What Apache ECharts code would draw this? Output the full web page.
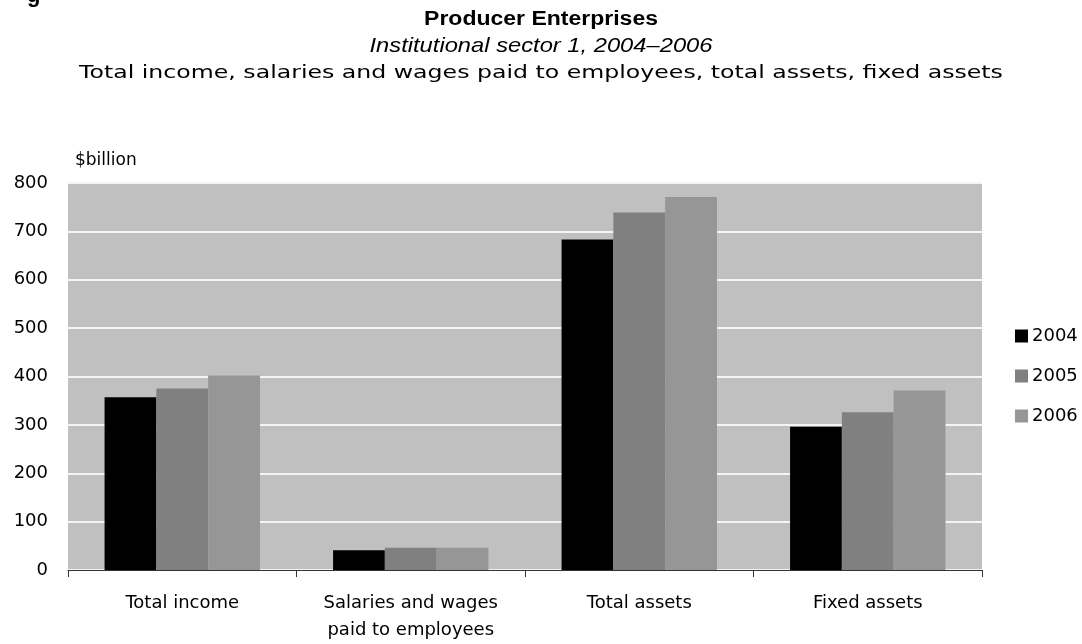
<!DOCTYPE html>
<html>
<head>
<meta charset="utf-8">
<style>
  html, body { margin: 0; padding: 0; background: #ffffff; }
  #chart { width: 1082px; height: 644px; }
</style>
<script src="https://cdn.jsdelivr.net/npm/echarts@6/dist/echarts.min.js"></script>
</head>
<body>
<div id="chart"></div>
<script>
// Producer enterprises, institutional sector 1, $billion
const categories = ['Total income', 'Salaries and wages\npaid to employees', 'Total assets', 'Fixed assets'];
const years = ['2004', '2005', '2006'];
const values2004 = [357, 41, 683, 296];
const values2005 = [375, 46, 739, 326];
const values2006 = [402, 46, 771, 371];
const yTicks = [0, 100, 200, 300, 400, 500, 600, 700, 800];
const seriesColors = ['#000000', '#808080', '#969696'];

const SANS = '"Liberation Sans", Arial, sans-serif';
const WIDE = '"DejaVu Sans", Verdana, sans-serif';
const chart = echarts.init(document.getElementById('chart'), null, { renderer: 'canvas' });

const seriesValues = [values2004, values2005, values2006];

// centred heading line, stretched horizontally to the wide spacing of the headings
function heading(text, font, y, stretch) {
  return {
    type: 'text', x: 541, y: y, scaleX: stretch, scaleY: 1,
    style: { text: text, font: font, fill: '#000', align: 'center', verticalAlign: 'middle' }
  };
}

chart.setOption({
  animation: false,
  backgroundColor: '#ffffff',
  textStyle: { fontFamily: WIDE },
  graphic: [
    { type: 'text', x: 27, y: -15, style: { text: 'g', font: 'bold 22px ' + SANS, fill: '#000' } },
    heading('Producer Enterprises', 'bold 20px ' + SANS, 19, 1.15),
    heading('Institutional sector 1, 2004\u20132006', 'italic 21px ' + SANS, 46, 1.13),
    heading('Total income, salaries and wages paid to employees, total assets, fixed assets', '17px ' + WIDE, 74, 1.39),
    { type: 'text', x: 75, y: 161, style: { text: '$billion', font: '17px ' + WIDE, fill: '#000', verticalAlign: 'middle' } }
  ],
  legend: {
    data: years,
    orient: 'vertical',
    left: 1010,
    top: 322,
    itemWidth: 13,
    itemHeight: 13,
    itemGap: 22,
    icon: 'rect',
    textStyle: { fontFamily: WIDE, fontSize: 18, color: '#000', padding: [0, 0, 0, -1] }
  },
  grid: {
    left: 68,
    right: 100,
    top: 183,
    bottom: 74,
    show: true,
    backgroundColor: '#c0c0c0',
    borderWidth: 0
  },
  xAxis: {
    type: 'category',
    data: categories,
    axisLine: { show: true, lineStyle: { color: '#333333', width: 1 } },
    axisTick: { show: true, length: 7, lineStyle: { color: '#333333' } },
    axisLabel: { color: '#000', fontSize: 18, fontFamily: WIDE, margin: 20, lineHeight: 27 }
  },
  yAxis: {
    type: 'value',
    min: yTicks[0],
    max: yTicks[yTicks.length - 1],
    interval: yTicks[1] - yTicks[0],
    axisLine: { show: false },
    axisTick: { show: false },
    axisLabel: { color: '#000', fontSize: 18, fontFamily: WIDE, margin: 20 },
    splitLine: { show: true, lineStyle: { color: '#f4f4f4', width: 2 } }
  },
  series: years.map((y, i) => ({
    name: y,
    type: 'bar',
    data: seriesValues[i],
    barGap: '0%',
    barCategoryGap: '32%',
    itemStyle: { color: seriesColors[i] }
  }))
});
</script>
</body>
</html>
